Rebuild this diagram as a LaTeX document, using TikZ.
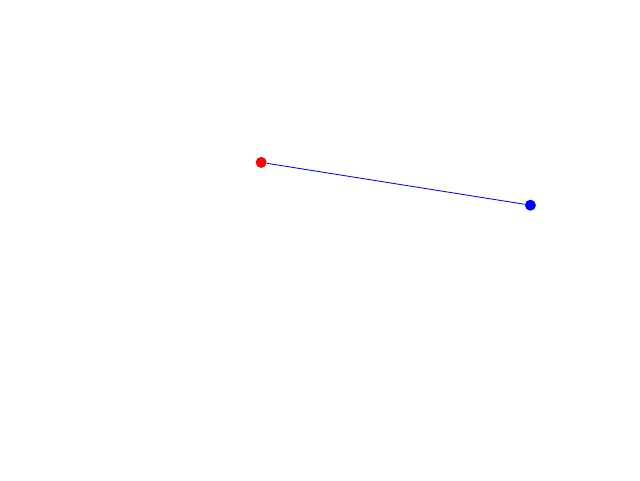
\documentclass[tikz,border=0pt]{standalone}
\usepackage{tikz}
\usetikzlibrary{positioning}

\begin{document}
\begin{tikzpicture}[node distance=3cm,on grid,
	dot/.style={circle, inner sep=0pt, minimum size=2.75mm}]

% Page frame (640x480)
\useasboundingbox (0,0) rectangle (16,12);

% End points
\node[dot, fill=red] (start_pt) at (6.53,7.94) {};

\node[dot,
	fill=blue,
	below right= 1.07cm and 6.73cm of start_pt] (end_pt) {};

% Segment
\draw[blue, line width=0.6pt] (start_pt) -- (end_pt);

\end{tikzpicture}
\end{document}
